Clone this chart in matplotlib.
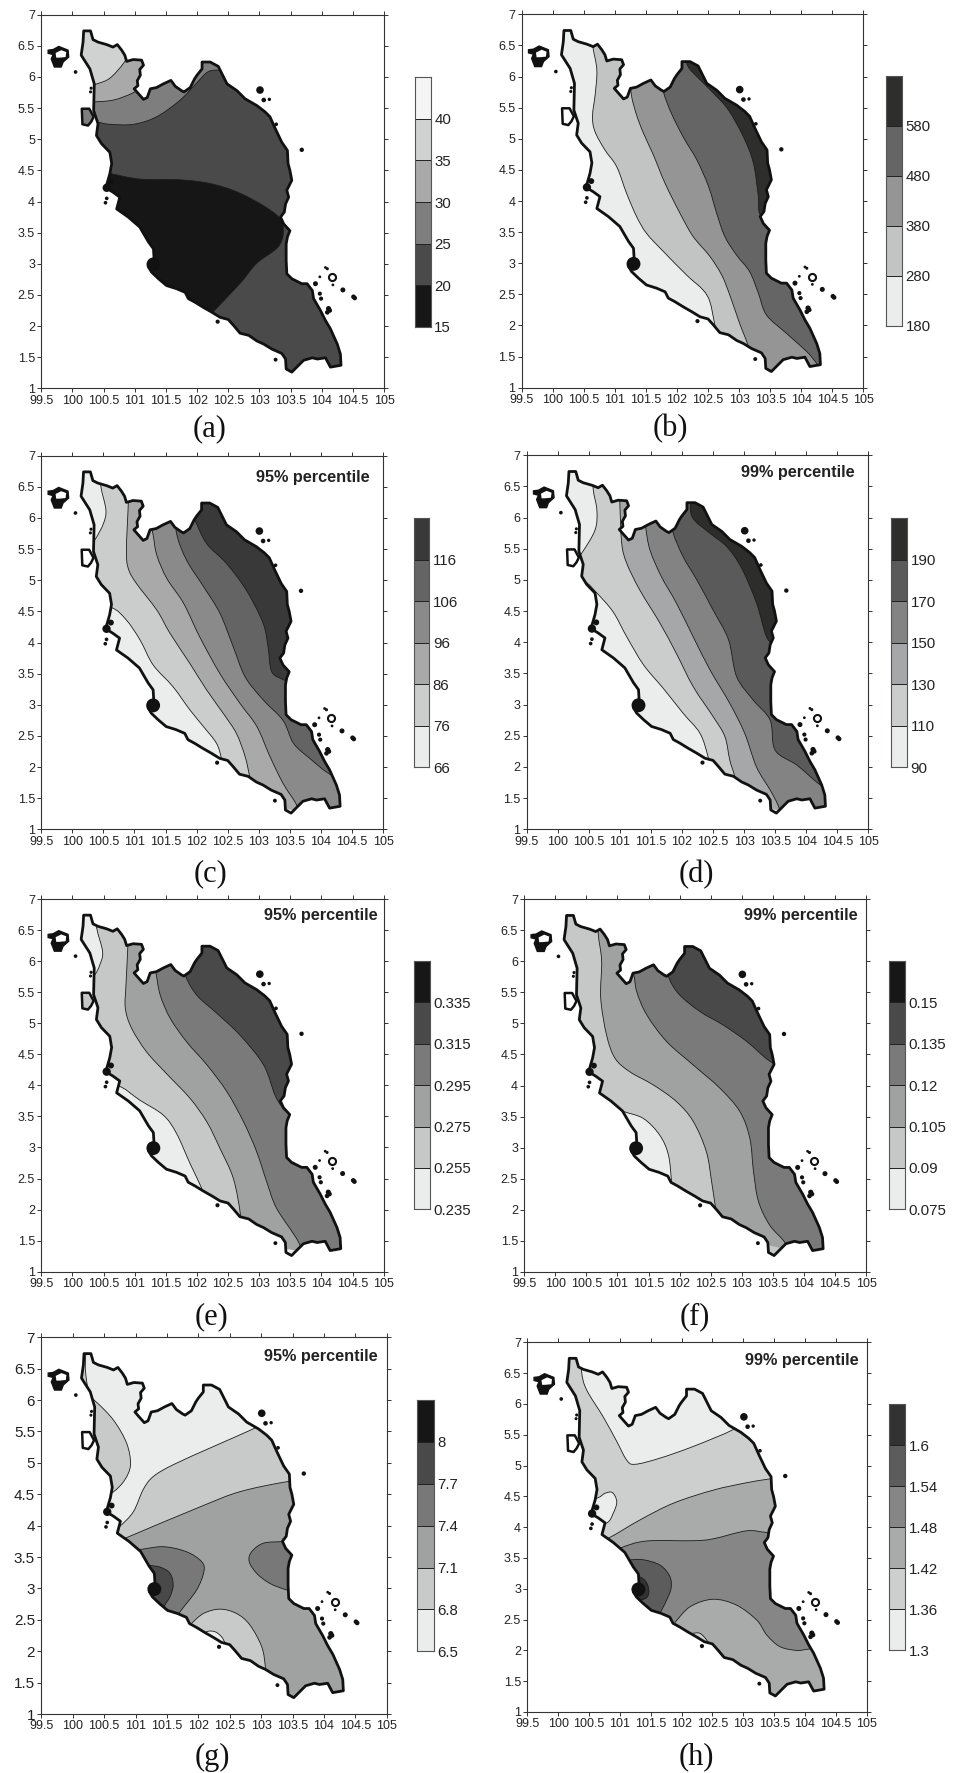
import matplotlib
matplotlib.use("Agg")
import matplotlib.pyplot as plt
from matplotlib.patches import Polygon, PathPatch
from matplotlib.path import Path

plt.rcParams['font.family'] = ['Liberation Sans', 'DejaVu Sans']
W, H = 963, 1773

# ---------- coast and islands (lon, lat) ----------
coast = [(100.18,6.74),(100.29,6.74),(100.33,6.60),(100.41,6.56),(100.55,6.52),(100.65,6.48),(100.72,6.52),(100.79,6.43),
 (100.84,6.35),(100.87,6.25),(100.975,6.28),(101.11,6.27),(101.14,6.19),(101.08,6.12),(101.09,6.03),(101.04,5.94),
 (101.05,5.86),(100.99,5.81),(101.06,5.73),(101.14,5.64),(101.20,5.67),(101.25,5.81),(101.35,5.83),(101.46,5.89),
 (101.58,5.945),(101.65,5.85),(101.75,5.78),(101.79,5.76),(101.89,5.83),(101.96,5.97),(102.0,6.03),(102.08,6.13),
 (102.08,6.24),(102.21,6.24),(102.34,6.17),(102.41,6.03),(102.48,5.89),(102.64,5.78),(102.77,5.65),(102.96,5.54),
 (103.09,5.44),(103.17,5.36),(103.255,5.17),(103.36,4.95),(103.45,4.82),(103.46,4.61),(103.49,4.50),(103.52,4.34),
 (103.44,4.18),(103.47,4.07),(103.42,3.96),(103.40,3.83),(103.34,3.75),(103.39,3.64),(103.49,3.53),(103.45,3.43),
 (103.43,3.32),(103.43,3.05),(103.44,2.84),(103.52,2.76),(103.68,2.68),(103.765,2.68),(103.85,2.57),(103.87,2.44),
 (103.98,2.25),(104.06,2.09),(104.14,1.955),(104.25,1.71),(104.30,1.55),(104.31,1.37),(104.14,1.34),(104.06,1.49),
 (103.93,1.47),(103.85,1.49),(103.71,1.45),(103.63,1.37),(103.52,1.26),(103.43,1.31),(103.42,1.47),(103.36,1.56),
 (103.20,1.63),(103.07,1.71),(102.96,1.76),(102.83,1.85),(102.69,1.885),(102.585,2.01),(102.50,2.105),(102.37,2.14),
 (102.24,2.22),(102.10,2.30),(101.97,2.38),(101.86,2.44),(101.81,2.54),(101.67,2.60),(101.51,2.65),(101.38,2.76),
 (101.27,2.865),(101.22,2.95),(101.31,3.08),(101.30,3.24),(101.22,3.35),(101.08,3.59),(100.895,3.75),(100.71,3.88),
 (100.76,4.07),(100.65,4.15),(100.535,4.22),(100.60,4.445),(100.63,4.61),(100.60,4.79),(100.465,4.93),(100.385,5.06),
 (100.41,5.25),(100.34,5.46),(100.35,5.89),(100.28,6.13),(100.14,6.35),(100.17,6.56)]
langkawi = [(99.61,6.43),(99.69,6.44),(99.78,6.49),(99.93,6.43),(99.94,6.32),(99.85,6.24),(99.82,6.16),(99.71,6.16),(99.66,6.29),(99.69,6.36),(99.61,6.38)]
langkawi_hole = [(99.73,6.385),(99.82,6.43),(99.90,6.40),(99.89,6.32),(99.79,6.31),(99.74,6.31)]
penang = [(100.15,5.49),(100.27,5.49),(100.34,5.36),(100.30,5.28),(100.25,5.22),(100.16,5.24)]
penang_face = ['#7e7e7e','white','white','white','#c6c8c8','white','white','white']
islet_lon = [100.05,100.30,100.29,103.01,103.07,103.16,103.27,103.68,100.55,100.53,103.26,102.33,104.34,104.53,104.51,103.90,103.97,104.09,104.06,103.97,103.99,104.11,104.09,104.13,104.18,101.30,100.55,100.62]
islet_lat = [6.08,5.82,5.76,5.79,5.63,5.64,5.24,4.83,4.05,3.98,1.46,2.07,2.58,2.45,2.47,2.68,2.79,2.92,2.94,2.52,2.44,2.28,2.22,2.25,2.66,2.99,4.22,4.32]
islet_size = [7,5,5,30,11,6,7,10,7,7,8,9,13,11,11,13,4,5,4,9,9,14,11,11,4,100,36,18]
ring_lon = [104.17]
ring_lat = [2.785]

# ---------- panels ----------
labels = ['(a)','(b)','(c)','(d)','(e)','(f)','(g)','(h)']
axes_px = [(41.3,14.7,384,388.3),(521.7,14.3,863.3,387.7),(41.3,455.7,383,829.3),(526.7,455.3,868.3,829.3),
           (41.3,899,383.7,1271.7),(524.3,899.3,866,1271.7),(41.3,1337.3,386.7,1714),(527.3,1342.3,866.7,1712)]
cbar_px = [(415.3,77.3,430.7,326.7),(886.3,76,902,325.7),(413.7,518,429.3,767.3),(891.3,518,907,767.3),
           (414.3,961,429.7,1209.3),(889.3,961,905,1209.3),(417.3,1400,433.7,1651.3),(889.3,1404.3,905.3,1650.3)]
caption_px = [(210,429),(670.7,429),(210,874),(696,875),(211.7,1316.7),(695,1316.7),(212,1757.7),(696,1756.7)]
pct_text = [None,None,'95% percentile','99% percentile','95% percentile','99% percentile','95% percentile','99% percentile']
pct_pos = [None,None,(104.78,6.65),(104.78,6.72),(104.90,6.74),(104.86,6.74),(104.86,6.69),(104.87,6.70)]
base = ['#4a4a4a','#ebeded','#ebeded','#ebeded','#ebeded','#c6c8c8','#ebeded','#ebeded']

cb_labels = [['15','20','25','30','35','40'],['180','280','380','480','580'],['66','76','86','96','106','116'],
             ['90','110','130','150','170','190'],['0.235','0.255','0.275','0.295','0.315','0.335'],
             ['0.075','0.09','0.105','0.12','0.135','0.15'],['6.5','6.8','7.1','7.4','7.7','8'],
             ['1.3','1.36','1.42','1.48','1.54','1.6']]
cb_colors = [['#161616','#4a4a4a','#7e7e7e','#a9a9a9','#d0d2d2','#f5f5f5'],
             ['#ebeded','#c2c4c4','#959595','#656565','#2e2e2c'],
             ['#ebeded','#cbcdcd','#a9a9a9','#8a8a8a','#646464','#393939'],
             ['#ebeded','#cbcdcd','#a6a7a8','#838383','#5a5a5a','#2d2d2b'],
             ['#ebeded','#c6c8c8','#a0a2a2','#7a7a7a','#494949','#171717'],
             ['#ebeded','#c6c8c8','#a0a2a2','#7a7a7a','#494949','#171717'],
             ['#ebeded','#c8caca','#a0a2a2','#787878','#494949','#161616'],
             ['#ebeded','#cdcfcf','#a9abab','#868686','#5c5c5c','#323232']]

# isolines (lon, lat), the colour above each, and where its filled side closes
iso_a = [[(100.4,4.47),(100.60,4.45),(101.08,4.36),(101.78,4.345),(102.31,4.265),(102.80,4.08),(103.28,3.78),(103.385,3.54),(103.30,3.27),(102.96,3.01),(102.69,2.685),(102.26,2.23),(102.15,2.10)],
         [(100.2,5.27),(100.36,5.28),(100.60,5.24),(100.98,5.24),(101.35,5.36),(101.73,5.63),(101.99,5.90),(102.18,6.085),(102.39,6.11),(102.6,6.1)],
         [(100.1,5.6),(100.33,5.60),(100.66,5.63),(100.98,5.75),(101.3,5.95)],
         [(100.1,5.8),(100.38,5.885),(100.60,5.98),(100.82,6.22),(100.95,6.45)]]
close_a = [[(99.6,1.5),(99.6,4.47)],[(102.6,6.9),(99.6,6.9),(99.6,5.27)],[(101.3,6.9),(99.6,6.9),(99.6,5.6)],[(100.95,6.9),(99.6,6.9),(99.6,5.8)]]
fill_a = ['#161616','#7e7e7e','#a9a9a9','#d0d2d2']

iso_b = [[(100.62,6.7),(100.65,6.45),(100.71,6.105),(100.685,5.73),(100.64,5.36),(100.68,5.115),(100.84,4.82),(101.03,4.55),(101.19,4.12),(101.35,3.75),(101.51,3.48),(101.78,3.19),(102.155,2.81),(102.42,2.57),(102.53,2.38),(102.61,2.01),(102.7,1.6)],
         [(101.25,5.95),(101.27,5.68),(101.35,5.38),(101.46,5.09),(101.62,4.74),(101.81,4.28),(102.05,3.80),(102.26,3.43),(102.53,3.11),(102.72,2.81),(102.85,2.49),(103.01,2.03),(103.15,1.66),(103.3,1.1)],
         [(101.7,6.2),(101.78,5.76),(101.91,5.41),(102.10,5.03),(102.32,4.66),(102.51,4.23),(102.64,3.80),(102.77,3.43),(102.96,3.13),(103.17,2.865),(103.31,2.52),(103.44,2.17),(103.76,1.875),(104.09,1.58),(104.25,1.39),(104.4,1.2)],
         [(102.1,6.4),(102.18,6.16),(102.32,6.0),(102.59,5.73),(102.83,5.46),(103.07,5.03),(103.23,4.61),(103.31,4.07),(103.33,3.80),(103.5,3.6)]]
close_b = [[(104.9,1.1),(104.9,6.9),(100.62,6.9)],[(104.9,1.1),(104.9,6.9),(101.25,6.9)],[(104.9,1.2),(104.9,6.9),(101.7,6.9)],[(104.9,3.6),(104.9,6.9),(102.1,6.9)]]
fill_b = ['#c2c4c4','#959595','#656565','#2e2e2c']

iso_c = [[(100.45,6.8),(100.46,6.50),(100.54,6.13),(100.50,5.91),(100.37,5.66),(100.25,5.5),(100.2,4.6),(100.63,4.56),(100.87,4.36),(101.09,4.04),(101.30,3.64),(101.62,3.29),(101.89,2.92),(102.11,2.65),(102.32,2.38),(102.40,2.13),(102.45,1.8)],
         [(100.90,6.5),(100.90,6.23),(100.87,5.485),(100.90,5.19),(101.03,4.95),(101.36,4.52),(101.57,4.15),(101.89,3.665),(102.16,3.24),(102.43,2.86),(102.64,2.54),(102.78,2.17),(102.86,1.82),(102.95,1.4)],
         [(101.25,5.95),(101.30,5.73),(101.36,5.40),(101.52,5.03),(101.79,4.63),(102.05,4.09),(102.375,3.50),(102.70,3.02),(102.97,2.65),(103.18,2.17),(103.39,1.74),(103.61,1.39),(103.7,1.1)],
         [(101.65,6.2),(101.68,5.74),(101.84,5.32),(102.11,4.90),(102.375,4.47),(102.59,3.93),(102.78,3.45),(103.07,3.08),(103.39,2.75),(103.56,2.38),(103.82,2.14),(104.12,1.90),(104.5,1.7)],
         [(101.85,6.2),(101.97,5.97),(102.16,5.59),(102.48,5.27),(102.80,4.84),(103.07,4.31),(103.15,3.93),(103.21,3.53),(103.42,3.39),(103.6,3.3)]]
close_c = [[(104.9,1.1),(104.9,6.9),(100.45,6.9)],[(104.9,1.1),(104.9,6.9),(100.9,6.9)],[(104.9,1.1),(104.9,6.9),(101.25,6.9)],[(104.9,1.7),(104.9,6.9),(101.65,6.9)],[(104.9,3.3),(104.9,6.9),(101.85,6.9)]]
fill_c = ['#cbcdcd','#a9a9a9','#8a8a8a','#646464','#393939']

iso_d = [[(100.55,6.9),(100.57,6.46),(100.63,6.12),(100.60,5.80),(100.385,5.43),(100.2,5.2),(100.2,5.0),(100.44,4.97),(100.63,4.79),(100.89,4.49),(101.11,4.09),(101.38,3.64),(101.70,3.26),(102.02,2.86),(102.29,2.54),(102.42,2.165),(102.5,1.8)],
         [(101.0,6.5),(101.0,6.23),(101.03,5.59),(101.11,5.27),(101.32,4.84),(101.65,4.30),(101.91,3.82),(102.18,3.29),(102.50,2.81),(102.69,2.49),(102.77,2.11),(102.85,1.845),(102.95,1.4)],
         [(101.4,6.1),(101.415,5.855),(101.485,5.48),(101.67,5.05),(101.91,4.63),(102.18,4.09),(102.45,3.56),(102.77,3.02),(103.01,2.54),(103.20,2.0),(103.42,1.63),(103.55,1.38),(103.65,1.1)],
         [(101.8,6.1),(101.86,5.75),(102.02,5.37),(102.24,5.0),(102.50,4.52),(102.75,4.04),(102.88,3.45),(103.15,3.07),(103.42,2.75),(103.50,2.27),(103.85,2.03),(104.19,1.74),(104.4,1.6)],
         [(102.15,6.4),(102.16,6.02),(102.45,5.75),(102.72,5.535),(102.96,5.19),(103.20,4.63),(103.36,4.09),(103.5,3.95)]]
close_d = [[(104.9,1.1),(104.9,6.9)],[(104.9,1.1),(104.9,6.9),(101.0,6.9)],[(104.9,1.1),(104.9,6.9),(101.4,6.9)],[(104.9,1.6),(104.9,6.9),(101.8,6.9)],[(104.9,3.95),(104.9,6.9),(102.15,6.9)]]
fill_d = ['#cbcdcd','#a6a7a8','#838383','#5a5a5a','#2d2d2b']

iso_e = [[(100.35,6.9),(100.39,6.53),(100.485,6.15),(100.44,5.94),(100.35,5.77),(100.1,5.5),(100.2,4.0),(100.71,4.0),(101.085,3.76),(101.46,3.52),(101.67,3.23),(101.89,2.74),(102.10,2.29),(102.2,2.0)],
         [(100.89,6.5),(100.89,6.23),(100.86,5.615),(100.85,5.24),(100.95,4.92),(101.19,4.54),(101.51,4.19),(101.89,3.79),(102.16,3.41),(102.37,2.985),(102.585,2.50),(102.70,1.91),(102.72,1.5)],
         [(101.3,6.0),(101.34,5.82),(101.41,5.455),(101.57,5.08),(101.835,4.70),(102.16,4.33),(102.48,3.90),(102.75,3.41),(102.96,2.93),(103.12,2.45),(103.28,2.02),(103.63,1.48),(103.75,1.1)],
         [(101.75,6.1),(101.81,5.78),(101.995,5.455),(102.32,5.16),(102.69,4.81),(103.07,4.33),(103.255,3.84),(103.4,3.6)]]
close_e = [[(104.9,1.1),(104.9,6.9)],[(104.9,1.1),(104.9,6.9),(100.89,6.9)],[(104.9,1.1),(104.9,6.9),(101.3,6.9)],[(104.9,3.6),(104.9,6.9),(101.75,6.9)]]
fill_e = ['#c6c8c8','#a0a2a2','#7a7a7a','#494949']

iso_f = [[(100.9,3.75),(101.07,3.595),(101.415,3.47),(101.68,3.20),(101.82,2.88),(101.87,2.45),(101.9,2.1)],
         [(100.67,6.9),(100.69,6.44),(100.745,6.0),(100.73,5.405),(100.825,4.81),(100.96,4.44),(101.20,4.22),(101.575,4.01),(101.95,3.74),(102.22,3.42),(102.43,2.935),(102.515,2.45),(102.58,2.02),(102.65,1.6)],
         [(101.2,6.0),(101.265,5.78),(101.31,5.51),(101.47,5.14),(101.79,4.71),(102.22,4.33),(102.65,3.955),(102.97,3.58),(103.13,3.15),(103.19,2.61),(103.27,2.13),(103.45,1.75),(103.70,1.46),(103.85,1.1)],
         [(101.75,6.1),(101.83,5.73),(102.0,5.46),(102.33,5.19),(102.70,4.975),(103.08,4.71),(103.44,4.40),(103.8,4.2)]]
close_f = [[(100.5,2.1),(100.5,3.75)],[(104.9,1.1),(104.9,6.9)],[(104.9,1.1),(104.9,6.9),(101.2,6.9)],[(104.9,4.2),(104.9,6.9),(101.75,6.9)]]
fill_f = ['#ebeded','#a0a2a2','#7a7a7a','#494949']

iso_g = [[(100.2,6.1),(100.37,5.975),(100.65,5.68),(100.86,5.31),(100.92,4.97),(100.83,4.73),(100.65,4.54),(100.4,4.4)],
         [(100.21,6.75),(100.2,6.5),(100.23,6.25),(100.23,6.2)],
         [(100.5,3.8),(100.74,3.98),(100.965,4.22),(101.12,4.57),(101.28,4.78),(101.60,4.97),(102.24,5.26),(102.85,5.53),(103.2,5.7)],
         [(100.5,3.65),(100.86,3.81),(102.03,4.30),(102.66,4.54),(103.41,4.70),(103.9,4.75)],
         [(101.89,2.44),(102.08,2.60),(102.345,2.67),(102.61,2.60),(102.82,2.42),(103.01,2.07),(103.07,1.73),(103.1,1.3)],
         [(102.0,2.2),(102.13,2.31),(102.265,2.31),(102.37,2.23),(102.425,2.125),(102.5,1.9)],
         [(100.8,3.65),(101.045,3.62),(101.44,3.665),(101.81,3.585),(102.05,3.43),(102.09,3.27),(101.97,2.97),(101.71,2.63),(101.6,2.45)],
         [(103.33,3.745),(103.035,3.72),(102.85,3.585),(102.81,3.43),(102.93,3.24),(103.14,3.08),(103.41,2.975),(103.7,2.9)],
         [(100.9,3.4),(101.18,3.37),(101.39,3.34),(101.55,3.24),(101.60,3.05),(101.55,2.87),(101.47,2.74),(101.4,2.6)]]
close_g = [[(100.0,4.4),(100.0,6.1)],[(100.0,6.2),(100.0,6.75)],[(104.9,5.7),(104.9,1.1),(100.5,1.1)],[(104.9,4.75),(104.9,1.1),(100.5,1.1)],
           [(101.6,1.3),(101.6,2.3)],[(102.0,1.9)],[(100.8,2.45)],[(103.7,3.8),(103.33,3.8)],[(100.9,2.6)]]
fill_g = ['#c8caca','#c8caca','#c8caca','#a0a2a2','#c8caca','#ebeded','#787878','#787878','#494949']

iso_h = [[(100.37,6.9),(100.38,6.52),(100.46,6.23),(100.73,5.79),(100.95,5.39),(101.11,5.09),(101.245,5.02),(101.65,5.12),(102.19,5.31),(102.81,5.57),(103.0,5.72)],
         [(100.3,4.47),(100.62,4.47),(100.76,4.55),(100.88,4.56),(100.95,4.41),(100.89,4.22),(100.79,4.07),(100.5,4.0)],
         [(100.5,3.7),(100.83,3.83),(101.33,4.12),(101.87,4.39),(102.51,4.60),(103.05,4.72),(103.41,4.78),(103.9,4.85)],
         [(100.8,3.55),(101.03,3.67),(101.43,3.775),(102.19,3.78),(102.51,3.81),(103.05,3.94),(103.37,3.915),(103.7,3.9)],
         [(101.89,2.45),(102.14,2.71),(102.51,2.83),(102.89,2.735),(103.22,2.49),(103.38,2.25),(103.595,2.06),(103.865,2.0),(104.05,2.02),(104.3,2.05)],
         [(102.0,2.25),(102.165,2.275),(102.30,2.275),(102.42,2.15),(102.5,2.0)],
         [(100.9,3.47),(101.14,3.47),(101.38,3.47),(101.65,3.385),(101.81,3.20),(101.83,3.01),(101.76,2.82),(101.67,2.64),(101.6,2.5)],
         [(101.0,3.2),(101.33,3.19),(101.46,3.03),(101.41,2.84),(101.0,2.8)]]
close_h = [[(104.9,5.72),(104.9,1.1),(99.6,1.1),(99.6,6.9)],[],[(104.9,4.85),(104.9,1.1),(100.5,1.1)],[(104.9,3.9),(104.9,1.1),(100.8,1.1)],
           [(104.9,2.05),(104.9,1.1),(101.6,1.1),(101.6,2.3)],[(102.0,2.0)],[(100.9,2.5)],[]]
fill_h = ['#cdcfcf','#ebeded','#a9abab','#868686','#a9abab','#cdcfcf','#5c5c5c','#323232']

all_iso = [iso_a,iso_b,iso_c,iso_d,iso_e,iso_f,iso_g,iso_h]
all_close = [close_a,close_b,close_c,close_d,close_e,close_f,close_g,close_h]
all_fill = [fill_a,fill_b,fill_c,fill_d,fill_e,fill_f,fill_g,fill_h]

xticks = [99.5+0.5*i for i in range(12)]
yticks = [1+0.5*i for i in range(13)]
xticklabels = ['99.5','100','100.5','101','101.5','102','102.5','103','103.5','104','104.5','105']
yticklabels = ['1','1.5','2','2.5','3','3.5','4','4.5','5','5.5','6','6.5','7']

fig = plt.figure(figsize=(W/100, H/100), dpi=100, facecolor='white')

def add_ax(box):
    x0, y0, x1, y1 = box
    return fig.add_axes([x0/W, 1-y1/H, (x1-x0)/W, (y1-y0)/H])

def curve(pts):
    """Bezier curve through the read points (drawing only, no added values)."""
    v, c = [pts[0]], [Path.MOVETO]
    for k in range(len(pts)-1):
        a = pts[max(k-1, 0)]; b = pts[k]; d = pts[k+1]; e = pts[min(k+2, len(pts)-1)]
        v += [(b[0]+(d[0]-a[0])/6, b[1]+(d[1]-a[1])/6), (d[0]-(e[0]-b[0])/6, d[1]-(e[1]-b[1])/6), d]
        c += [Path.CURVE4]*3
    return v, c

for i in range(8):
    ax = add_ax(axes_px[i])
    ax.set_xlim(99.5, 105); ax.set_ylim(1, 7)
    ax.set_xticks(xticks, xticklabels); ax.set_yticks(yticks, yticklabels)
    ax.tick_params(direction='out', top=True, right=True, length=3, width=0.7, color='#333333',
                   labelsize=9, labelcolor='#222222', pad=1.5)
    if i == 6:
        ax.tick_params(axis='y', labelsize=11)
    for s in ax.spines.values():
        s.set_linewidth(0.8); s.set_color('#333333')

    land = Polygon(coast, closed=True, facecolor=base[i], edgecolor='none', zorder=1)
    ax.add_patch(land)
    for pts, cl, col in zip(all_iso[i], all_close[i], all_fill[i]):
        v, c = curve(pts)
        v = v + list(cl) + [pts[0]]
        c = c + [Path.LINETO]*len(cl) + [Path.CLOSEPOLY]
        p = PathPatch(Path(v, c), facecolor=col, edgecolor='none', zorder=2)
        ax.add_patch(p); p.set_clip_path(land)
    for pts in all_iso[i]:
        v, c = curve(pts)
        ln = PathPatch(Path(v, c), facecolor='none', edgecolor='#1c1c1c', lw=0.6, zorder=3)
        ax.add_patch(ln); ln.set_clip_path(land)
    ax.add_patch(Polygon(coast, closed=True, facecolor='none', edgecolor='#111111', lw=2.0, joinstyle='round', zorder=4))

    ax.add_patch(Polygon(langkawi, closed=True, facecolor='#111111', edgecolor='#111111', lw=1.0, zorder=4))
    ax.add_patch(Polygon(langkawi_hole, closed=True, facecolor='white', edgecolor='none', zorder=5))
    ax.add_patch(Polygon(penang, closed=True, facecolor=penang_face[i], edgecolor='#111111', lw=1.8, joinstyle='round', zorder=4))
    ax.scatter(islet_lon, islet_lat, s=islet_size, c='#111111', linewidths=0, zorder=5)
    ax.scatter(ring_lon, ring_lat, s=26, facecolors='white', edgecolors='#111111', linewidths=1.5, zorder=5)

    if pct_text[i]:
        ax.text(pct_pos[i][0], pct_pos[i][1], pct_text[i], ha='right', va='center', fontsize=11.7,
                fontweight='bold', color='#222222', zorder=6)

    fig.text(caption_px[i][0]/W, 1-caption_px[i][1]/H, labels[i], ha='center', va='center', fontsize=22,
             family=['Liberation Serif','DejaVu Serif'], color='#111111')

    # colour bar
    cax = add_ax(cbar_px[i])
    n = len(cb_colors[i])
    cax.bar([0]*n, [1]*n, width=1, bottom=list(range(n)), color=cb_colors[i], edgecolor='#222222', linewidth=0.7)
    cax.set_xlim(-0.5, 0.5); cax.set_ylim(0, n)
    cax.set_xticks([])
    cax.yaxis.tick_right()
    cax.set_yticks(list(range(n)), cb_labels[i])
    cax.tick_params(axis='y', length=0, labelsize=10.8, labelcolor='#222222', pad=2.5)
    for s in cax.spines.values():
        s.set_linewidth(0.8); s.set_color('#555555')

fig.savefig('out.png', dpi=100, facecolor='white')
